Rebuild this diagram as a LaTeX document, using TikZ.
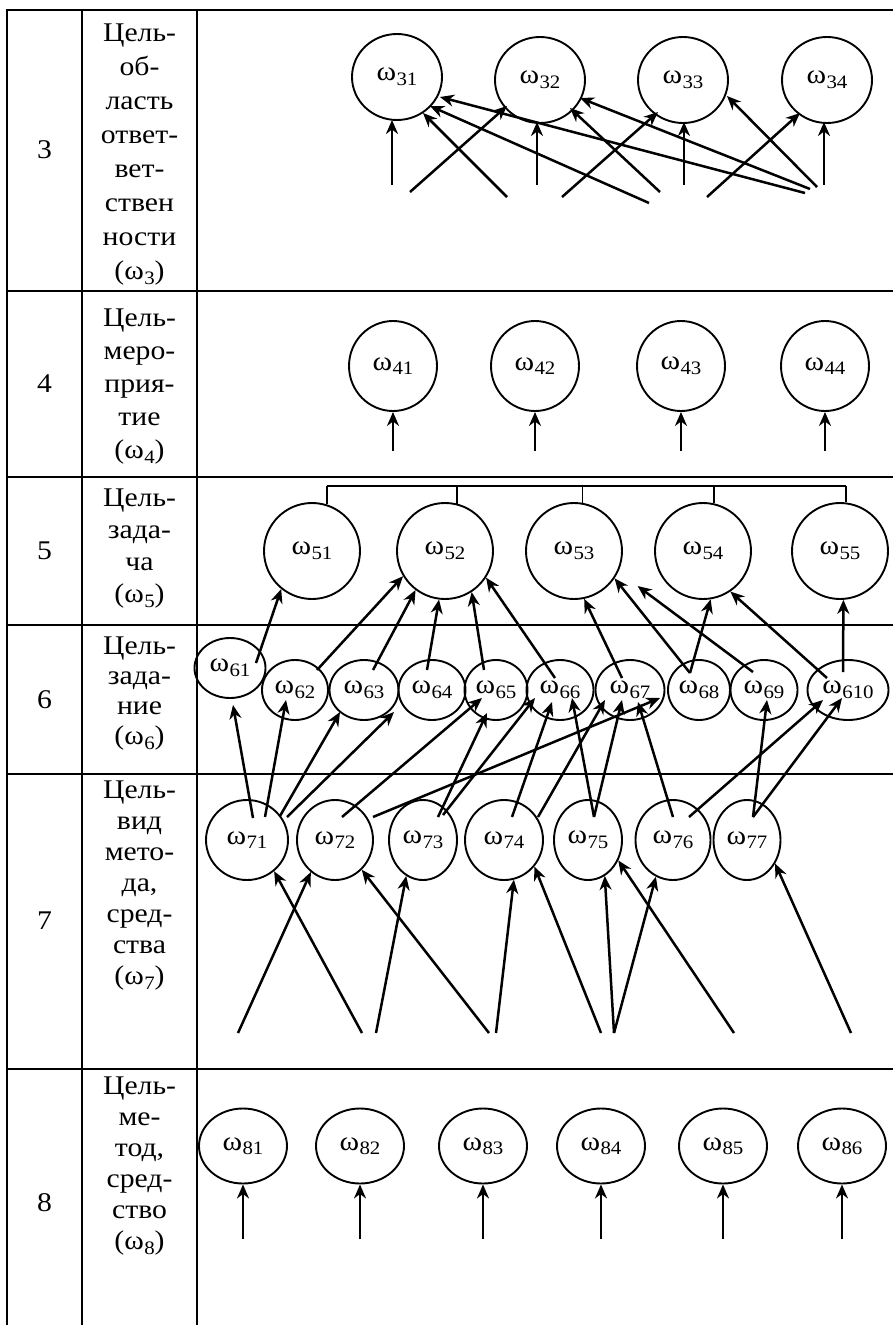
\documentclass[tikz,border=0pt]{standalone}
\usepackage{fontspec}
\setmainfont{Liberation Serif}[FakeStretch=1.1]
\usetikzlibrary{shapes.geometric,arrows.meta,calc}

% omega with a lowered numeric index
\newcommand\wsub[1]{ω\kern0.4pt\raisebox{-4.5pt}{\fontsize{19}{19}\selectfont #1}}
% arrow between two points given as offsets from node centres
\newcommand\linkarr[4]{\draw[arr] ($(#1)+(#2)$) -- ($(#3)+(#4)$);}

\begin{document}
\begin{tikzpicture}[x=1pt,y=-1pt,
  grid/.style={line width=2.6pt},
  om/.style={ellipse, draw, line width=1.9pt, inner sep=0pt,
             font=\fontsize{27}{27}\selectfont},
  sz/.style 2 args={minimum width=#1pt, minimum height=#2pt},
  arr/.style={line width=2.5pt, -{Stealth[length=14pt,width=12pt,inset=4.5pt]}},
  lbl/.style={align=center, inner sep=0pt, anchor=north},
  num/.style={inner sep=0pt, font=\fontsize{27}{27}\selectfont},
]
\useasboundingbox (0,0) rectangle (893,1325);
\fill[white] (0,0) rectangle (893,1325);

% table grid
\foreach \y in {10,291,477,625,774,1069} \draw[grid] (6,\y) -- (893,\y);
\foreach \x in {7,82,197} \draw[grid] (\x,9) -- (\x,1325);

% row numbers
\node[num] (r3) at (44.5,150) {3};
\node[num] (r4) at (44.5,384) {4};
\node[num] (r5) at (44.5,551) {5};
\node[num] (r6) at (44.5,700) {6};
\node[num] (r7) at (44.5,921) {7};
\node[num] (r8) at (44.5,1203) {8};

% row titles
\node[lbl, font=\fontsize{27}{34}\selectfont] (d3) at (139.5,24)
  {Цель-\\об-\\ласть\\ответ-\\вет-\\ствен\\ности\\(\wsub{3})};
\node[lbl, font=\fontsize{27}{33}\selectfont] (d4) at (139.5,309)
  {Цель-\\меро-\\прия-\\тие\\(\wsub{4})};
\node[lbl, font=\fontsize{27}{32}\selectfont] (d5) at (139.5,489)
  {Цель-\\зада-\\ча\\(\wsub{5})};
\node[lbl, font=\fontsize{27}{30}\selectfont] (d6) at (139.5,637)
  {Цель-\\зада-\\ние\\(\wsub{6})};
\node[lbl, font=\fontsize{27}{31}\selectfont] (d7) at (139.5,781)
  {Цель-\\вид\\мето-\\да,\\сред-\\ства\\(\wsub{7})};
\node[lbl, font=\fontsize{27}{31}\selectfont] (d8) at (139.5,1077)
  {Цель-\\ме-\\тод,\\сред-\\ство\\(\wsub{8})};

% level 3
\node[om, sz={90}{86}] (n31) at (397,77) {\wsub{31}};
\node[om, sz={90}{86}] (n32) at (540,80) {\wsub{32}};
\node[om, sz={90}{86}] (n33) at (683,80) {\wsub{33}};
\node[om, sz={90}{86}] (n34) at (827,80) {\wsub{34}};

% level 4
\node[om, sz={88}{90}] (n41) at (393,366) {\wsub{41}};
\node[om, sz={88}{90}] (n42) at (535,366) {\wsub{42}};
\node[om, sz={88}{90}] (n43) at (681,366) {\wsub{43}};
\node[om, sz={88}{90}] (n44) at (825,366) {\wsub{44}};

% level 5
\node[om, sz={96}{96}] (n51) at (312,551) {\wsub{51}};
\node[om, sz={96}{96}] (n52) at (445,551) {\wsub{52}};
\node[om, sz={96}{96}] (n53) at (574,551) {\wsub{53}};
\node[om, sz={96}{96}] (n54) at (703,551) {\wsub{54}};
\node[om, sz={96}{96}] (n55) at (840,551) {\wsub{55}};

% level 6
\node[om, sz={71}{60}] (n61) at (230,668) {\wsub{61}};
\node[om, sz={66}{60}] (n62) at (295,690) {\wsub{62}};
\node[om, sz={69}{60}] (n63) at (364,690) {\wsub{63}};
\node[om, sz={67}{60}] (n64) at (432,690) {\wsub{64}};
\node[om, sz={63}{60}] (n65) at (496,690) {\wsub{65}};
\node[om, sz={67}{60}] (n66) at (560,690) {\wsub{66}};
\node[om, sz={69}{60}] (n67) at (630,690) {\wsub{67}};
\node[om, sz={62}{60}] (n68) at (699,690) {\wsub{68}};
\node[om, sz={67}{60}] (n69) at (764,690) {\wsub{69}};
\node[om, sz={81}{60}] (n610) at (848,690) {\wsub{610}};

% level 7
\node[om, sz={82}{80}] (n71) at (247,840) {\wsub{71}};
\node[om, sz={76}{80}] (n72) at (335,840) {\wsub{72}};
\node[om, sz={68}{80}] (n73) at (423,840) {\wsub{73}};
\node[om, sz={78}{80}] (n74) at (504,840) {\wsub{74}};
\node[om, sz={68}{80}] (n75) at (588,840) {\wsub{75}};
\node[om, sz={75}{80}] (n76) at (673,840) {\wsub{76}};
\node[om, sz={67}{80}] (n77) at (747,840) {\wsub{77}};

% level 8
\node[om, sz={88}{75}] (n81) at (243,1146) {\wsub{81}};
\node[om, sz={88}{75}] (n82) at (360,1146) {\wsub{82}};
\node[om, sz={88}{75}] (n83) at (483,1146) {\wsub{83}};
\node[om, sz={88}{75}] (n84) at (601,1146) {\wsub{84}};
\node[om, sz={88}{75}] (n85) at (723,1146) {\wsub{85}};
\node[om, sz={88}{75}] (n86) at (842,1146) {\wsub{86}};

% level 3 inputs
\coordinate (m3) at (392,185);
\coordinate (a3) at (410,192);
\coordinate (b3) at (507,197);
\coordinate (c3) at (537,185);
\coordinate (d3t) at (562,197);
\coordinate (e3) at (649,203);
\coordinate (f3) at (660,192);
\coordinate (g3) at (684,185);
\coordinate (h3) at (707,197);
\coordinate (i3) at (805,193);
\coordinate (j3) at (810,189);
\coordinate (k3) at (817,187);
\coordinate (l3) at (824,185);
\draw[arr] (m3) -- ($(n31)+(-5,43)$);
\draw[arr] (a3) -- ($(n32)+(-33,26)$);
\draw[arr] (b3) -- ($(n31)+(26,36)$);
\draw[arr] (c3) -- ($(n32)+(-3,42)$);
\draw[arr] (d3t) -- ($(n33)+(-25,32)$);
\draw[arr] (e3) -- ($(n31)+(33,29)$);
\draw[arr] (f3) -- ($(n32)+(30,28)$);
\draw[arr] (g3) -- ($(n33)+(1,42)$);
\draw[arr] (h3) -- ($(n34)+(-27,33)$);
\draw[arr] (i3) -- ($(n31)+(43,20)$);
\draw[arr] (j3) -- ($(n32)+(40,18)$);
\draw[arr] (k3) -- ($(n33)+(44,16)$);
\draw[arr] (l3) -- ($(n34)+(-3,42)$);

% level 4 inputs
\foreach \n in {n41,n42,n43,n44}
  \draw[arr] ($(\n.south)+(0,39)$) -- (\n.south);

% level 5 bracket
\coordinate (br) at (0,486);
\draw[line width=2.1pt] (n51.72 |- br) -- (n55.83 |- br);
\foreach \n/\a in {n51/72, n52/76, n53/80, n54/77, n55/83}
  \draw[line width=1.4pt] (\n.\a) -- (\n.\a |- br);

% level 6 -> level 5
\draw[arr] ($(n61)+(26,-5)$) -- (n51.-129);
\draw[arr] ($(n62)+(22,-20)$) -- (n52.-149);
\draw[arr] ($(n63)+(9,-20)$) -- (n52.-127);
\draw[arr] ($(n64)+(-5,-20)$) -- (n52.-97);
\draw[arr] ($(n65)+(-12,-20)$) -- (n52.-57);
\draw[arr] ($(n66)+(-5,-12)$) -- (n52.-33);
\draw[arr] ($(n67)+(-8,-12)$) -- (n53.-78);
\draw[arr] ($(n68)+(-9,-17)$) -- (n53.-34);
\draw[arr] ($(n68)+(-9,-17)$) -- (n54.-81);
\draw[arr, shorten >=24pt] ($(n69)+(-11,-18)$) -- (n53.-25);
\draw[arr] ($(n610)+(-21,-12)$) -- (n54.-56);
\draw[arr] ($(n610)+(-5,-18)$) -- (n55.-86);

% level 7 -> level 6
\linkarr{n71}{6,-22}{n61}{3,37}
\linkarr{n71}{18,-23}{n62}{-9,10}
\linkarr{n71}{33,-24}{n63}{-24,22}
\linkarr{n71}{40,-23}{n64}{-38,22}
\linkarr{n72}{7,-23}{n65}{-14,8}
\linkarr{n72}{38,-23}{n67}{30,8}
\linkarr{n73}{15,-23}{n65}{-9,23}
\linkarr{n73}{20,-25}{n66}{-25,8}
\linkarr{n74}{8,-23}{n66}{-8,12}
\linkarr{n74}{34,-23}{n67}{-25,10}
\linkarr{n75}{6,-23}{n66}{12,8}
\linkarr{n75}{6,-23}{n67}{-8,10}
\linkarr{n76}{0,-23}{n67}{8,12}
\linkarr{n76}{16,-23}{n610}{-25,10}
\linkarr{n77}{6,-23}{n69}{3,10}
\linkarr{n77}{6,-23}{n610}{-6,8}

% level 7 inputs
\coordinate (s1) at (238,1033);
\coordinate (s2) at (362,1033);
\coordinate (s3) at (376,1033);
\coordinate (s4) at (489,1033);
\coordinate (s5) at (496,1033);
\coordinate (s6) at (601,1033);
\coordinate (s7) at (614,1033);
\coordinate (s8) at (734,1033);
\coordinate (s9) at (851,1033);
\draw[arr] (s1) -- (n72.-127);
\draw[arr] (s2) -- (n71.-49);
\draw[arr] (s3) -- (n73.-115);
\draw[arr] (s4) -- (n72.-48);
\draw[arr] (s5) -- (n74.-76);
\draw[arr] (s6) -- (n74.-41);
\draw[arr] (s7) -- (n75.-65);
\draw[arr] (s7) -- (n76.-115);
\draw[arr] (s8) -- (n75.-34);
\draw[arr] (s9) -- (n77.-40);

% level 8 inputs
\foreach \n in {n81,n82,n83,n84,n85,n86}
  \draw[arr] ($(\n.south)+(0,55)$) -- (\n.south);
\end{tikzpicture}
\end{document}
